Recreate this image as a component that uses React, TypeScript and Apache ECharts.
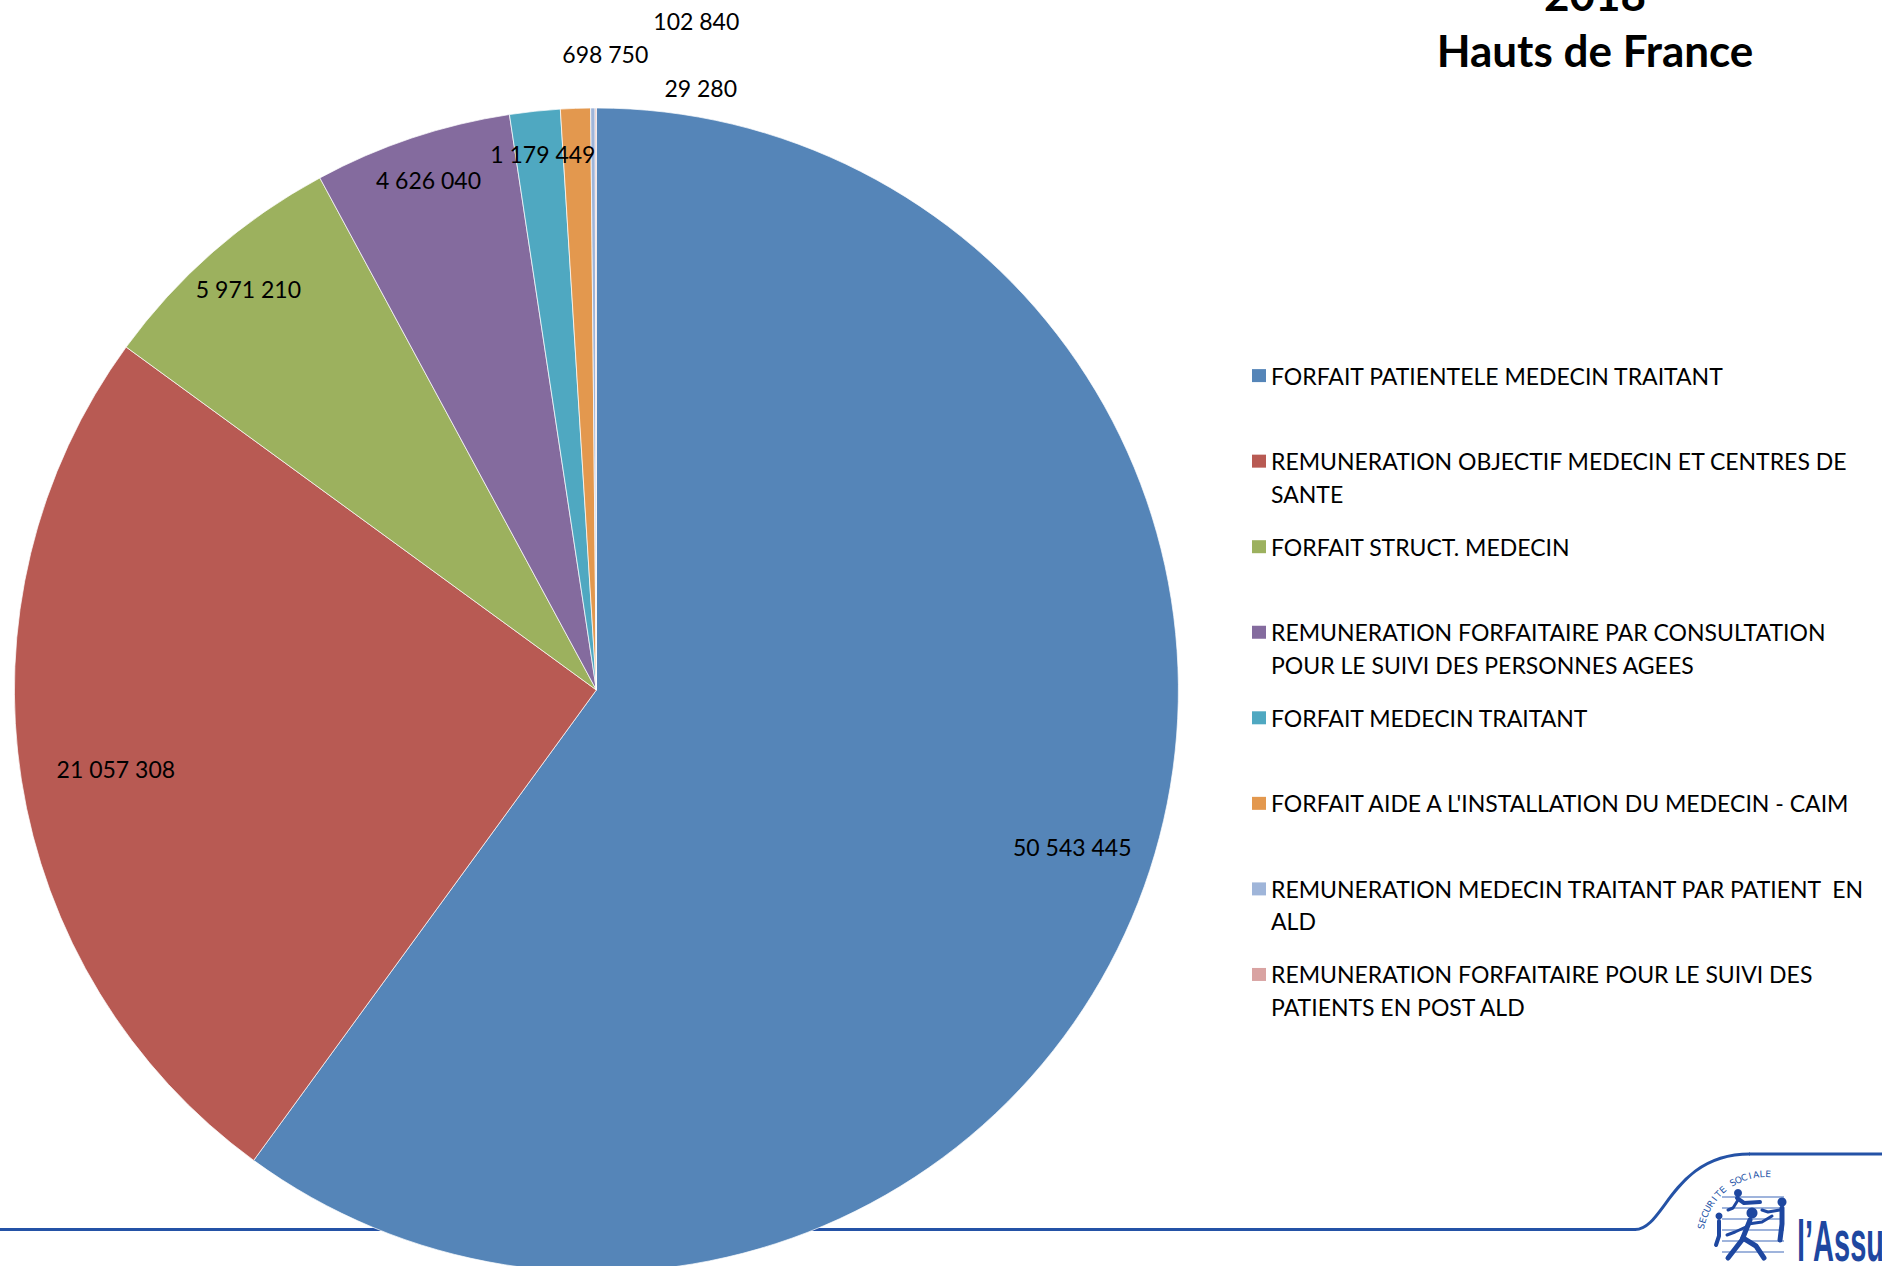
import React, { useEffect, useRef } from 'react';
import * as echarts from 'echarts';

const categories = [
  'FORFAIT PATIENTELE MEDECIN TRAITANT',
  'REMUNERATION OBJECTIF MEDECIN ET CENTRES DE SANTE',
  'FORFAIT STRUCT. MEDECIN',
  'REMUNERATION FORFAITAIRE PAR CONSULTATION POUR LE SUIVI DES PERSONNES AGEES',
  'FORFAIT MEDECIN TRAITANT',
  "FORFAIT AIDE A L'INSTALLATION DU MEDECIN - CAIM",
  'REMUNERATION MEDECIN TRAITANT PAR PATIENT  EN ALD',
  'REMUNERATION FORFAITAIRE POUR LE SUIVI DES PATIENTS EN POST ALD',
];

const legendLines = [
  ['FORFAIT PATIENTELE MEDECIN TRAITANT'],
  ['REMUNERATION OBJECTIF MEDECIN ET CENTRES DE', 'SANTE'],
  ['FORFAIT STRUCT. MEDECIN'],
  ['REMUNERATION FORFAITAIRE PAR CONSULTATION', 'POUR LE SUIVI DES PERSONNES AGEES'],
  ['FORFAIT MEDECIN TRAITANT'],
  ["FORFAIT AIDE A L'INSTALLATION DU MEDECIN - CAIM"],
  ['REMUNERATION MEDECIN TRAITANT PAR PATIENT  EN', 'ALD'],
  ['REMUNERATION FORFAITAIRE POUR LE SUIVI DES', 'PATIENTS EN POST ALD'],
];

const values = [50543445, 21057308, 5971210, 4626040, 1179449, 698750, 102840, 29280];

const titleLines = ['2018', 'Hauts de France'];

const colors = ['#5585B8', '#B85A53', '#9CB15E', '#846B9E', '#4FA8C1', '#E3984E', '#9FB5D9', '#D9A3A2'];

// label placement styling (radial scale from the default inner position, shifts)
const labelRadialScale = [1.72, 1.67, 1.82, 1.85, 1.85, 2.19, 2.3, 2.07];
const labelShiftX = [-5, 4.5, 4, 4.5, 4, 32, 104, 105];
const labelShiftY = [0, 2.5, 2.5, 6, 5, 7, 7, 7];

const FONT = 'Lato, "Open Sans", "Noto Sans", sans-serif';
const PIE_CX = 596.4;
const PIE_CY = 690;
const PIE_R = 582;
const LEGEND_X = 1252;
const LEGEND_Y0 = 375.6;
const LEGEND_STEP = 85.55;
const LEGEND_LH = 32.4;
const LOGO_BLUE = '#2452A6';

function fmt(v: number): string {
  return String(v).replace(/\B(?=(\d{3})+(?!\d))/g, ' ');
}

function buildLogo(): any[] {
  const els: any[] = [];
  els.push({
    type: 'line', z: 0,
    shape: { x1: 0, y1: 1229.5, x2: 1636, y2: 1229.5 },
    style: { stroke: LOGO_BLUE, lineWidth: 3 },
  });
  els.push({
    type: 'bezierCurve', z: 0,
    shape: { x1: 1635, y1: 1229.5, cpx1: 1665, cpy1: 1229.5, cpx2: 1672, cpy2: 1154, x2: 1750, y2: 1154 },
    style: { stroke: LOGO_BLUE, lineWidth: 3, fill: 'none' },
  });
  els.push({
    type: 'line', z: 0,
    shape: { x1: 1749, y1: 1154, x2: 1882, y2: 1154 },
    style: { stroke: LOGO_BLUE, lineWidth: 3 },
  });
  const txt = 'SECURITE SOCIALE';
  const cx = 1766, cy = 1240, R = 66;
  const a0 = 192, a1 = 272;
  for (let i = 0; i < txt.length; i++) {
    const th = a0 + ((a1 - a0) * i) / (txt.length - 1);
    const rad = (th * Math.PI) / 180;
    els.push({
      type: 'text', z: 0,
      x: cx + R * Math.cos(rad),
      y: cy + R * Math.sin(rad),
      rotation: ((270 - th) * Math.PI) / 180,
      style: { text: txt[i], font: '9px "DejaVu Sans", sans-serif', fill: LOGO_BLUE, align: 'center', verticalAlign: 'middle' },
    });
  }
  [1197, 1208, 1219, 1230, 1241, 1252].forEach((y) => {
    els.push({ type: 'line', z: 0, shape: { x1: 1722, y1: y, x2: 1784, y2: y }, style: { stroke: '#7F9BD0', lineWidth: 1.5 } });
  });
  const fig = { stroke: '#1E47A0', lineWidth: 5, lineCap: 'round', lineJoin: 'round', fill: 'none' };
  els.push({ type: 'circle', z: 0, shape: { cx: 1752, cy: 1213, r: 5.5 }, style: { fill: '#1E47A0' } });
  els.push({ type: 'polyline', z: 0, shape: { points: [[1750, 1220], [1742, 1240], [1728, 1258]] }, style: fig });
  els.push({ type: 'polyline', z: 0, shape: { points: [[1743, 1238], [1756, 1246], [1764, 1258]] }, style: fig });
  els.push({ type: 'polyline', z: 0, shape: { points: [[1748, 1224], [1762, 1222], [1772, 1216]] }, style: { ...fig, lineWidth: 3 } });
  els.push({ type: 'polyline', z: 0, shape: { points: [[1748, 1226], [1735, 1232], [1727, 1235]] }, style: { ...fig, lineWidth: 3 } });
  els.push({ type: 'circle', z: 0, shape: { cx: 1719, cy: 1216, r: 3.5 }, style: { fill: '#1E47A0' } });
  els.push({ type: 'polyline', z: 0, shape: { points: [[1719, 1221], [1719, 1236], [1716, 1245]] }, style: { ...fig, lineWidth: 4 } });
  els.push({ type: 'circle', z: 0, shape: { cx: 1738, cy: 1193, r: 4 }, style: { fill: '#1E47A0' } });
  els.push({ type: 'polyline', z: 0, shape: { points: [[1737, 1198], [1744, 1203], [1760, 1202]] }, style: { ...fig, lineWidth: 4 } });
  els.push({ type: 'polyline', z: 0, shape: { points: [[1738, 1200], [1733, 1208], [1728, 1210]] }, style: { ...fig, lineWidth: 3 } });
  els.push({ type: 'circle', z: 0, shape: { cx: 1782, cy: 1202, r: 4.5 }, style: { fill: '#1E47A0' } });
  els.push({ type: 'polyline', z: 0, shape: { points: [[1782, 1208], [1782, 1224], [1780, 1240]] }, style: { ...fig, lineWidth: 5 } });
  els.push({ type: 'polyline', z: 0, shape: { points: [[1780, 1210], [1768, 1212], [1762, 1210]] }, style: { ...fig, lineWidth: 3 } });
  els.push({
    type: 'text', z: 0, x: 1797, y: 1241, scaleX: 0.5,
    style: { text: 'l\u2019Assurance', font: 'bold 58px "Liberation Sans", Arial, sans-serif', fill: '#1E47A0', align: 'left', verticalAlign: 'middle' },
  });
  return els;
}

export default function App() {
  const ref = useRef<HTMLDivElement>(null);

  useEffect(() => {
    if (!ref.current) return;
    const chart = echarts.init(ref.current, undefined, { renderer: 'svg' });

    const secondLines: any[] = [];
    legendLines.forEach((lines, i) => {
      for (let j = 1; j < lines.length; j++) {
        secondLines.push({
          type: 'text', z: 10,
          x: LEGEND_X + 14 + 5,
          y: LEGEND_Y0 + i * LEGEND_STEP + j * LEGEND_LH,
          style: { text: lines[j], font: `23px ${FONT}`, fill: '#000', align: 'left', verticalAlign: 'middle' },
        });
      }
    });

    const option: any = {
      animation: false,
      backgroundColor: '#ffffff',
      color: colors,
      graphic: [
        ...buildLogo(),
        ...secondLines,
        {
          type: 'text', z: 10, x: 1595, y: -6,
          style: { text: titleLines[0], font: `bold 44px ${FONT}`, fill: '#000', align: 'center', verticalAlign: 'middle' },
        },
        {
          type: 'text', z: 10, x: 1595, y: 50,
          style: { text: titleLines[1], font: `bold 44px ${FONT}`, fill: '#000', align: 'center', verticalAlign: 'middle' },
        },
      ],
      legend: categories.map((name, i) => ({
        data: [name],
        left: LEGEND_X,
        top: LEGEND_Y0 + i * LEGEND_STEP - LEGEND_LH / 2,
        orient: 'vertical',
        padding: 0,
        itemWidth: 14,
        itemHeight: 13,
        icon: 'rect',
        selectedMode: false,
        itemStyle: { borderWidth: 0 },
        formatter: () => legendLines[i][0],
        textStyle: {
          fontFamily: FONT,
          fontSize: 23,
          color: '#000',
          lineHeight: LEGEND_LH,
        },
      })),
      series: [
        {
          type: 'pie',
          center: [PIE_CX, PIE_CY],
          radius: [0, PIE_R],
          startAngle: 90,
          clockwise: true,
          avoidLabelOverlap: false,
          silent: true,
          itemStyle: { borderColor: 'rgba(255,255,255,0.7)', borderWidth: 1 },
          label: {
            show: true,
            position: 'inside',
            overflow: 'none',
            fontFamily: FONT,
            fontSize: 23,
            color: '#000',
            formatter: (p: any) => fmt(p.value),
          },
          labelLine: { show: false },
          labelLayout: (p: any) => {
            const r = p.labelRect;
            const lx = r.x + r.width / 2;
            const ly = r.y + r.height / 2;
            const k = labelRadialScale[p.dataIndex];
            return {
              x: PIE_CX + (lx - PIE_CX) * k + labelShiftX[p.dataIndex],
              y: PIE_CY + (ly - PIE_CY) * k + labelShiftY[p.dataIndex],
              align: 'center',
              verticalAlign: 'middle',
            };
          },
          data: categories.map((name, i) => ({ name, value: values[i] })),
        },
      ],
    };

    chart.setOption(option);
    return () => chart.dispose();
  }, []);

  return (
    <div
      ref={ref}
      style={{ position: 'absolute', left: 0, top: 0, width: 1882, height: 1266, overflow: 'hidden' }}
    />
  );
}
